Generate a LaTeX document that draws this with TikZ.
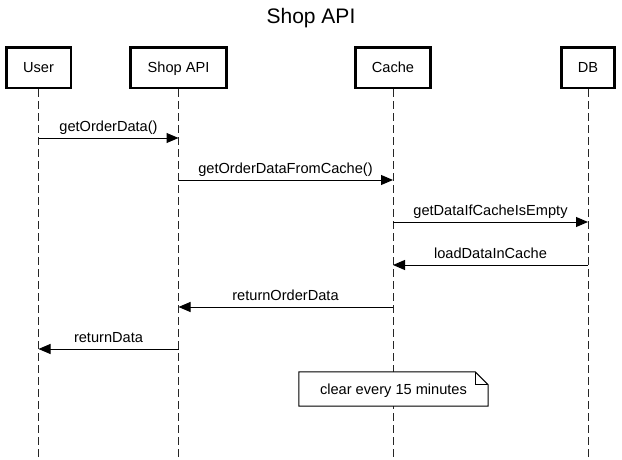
\documentclass[tikz,border=0pt]{standalone}
\usepackage{fontspec}
\setmainfont{Liberation Sans}
\usetikzlibrary{arrows.meta}
\begin{document}
\begin{tikzpicture}[x=1pt,y=-1pt,
 actor/.style={draw, line width=2.5pt, minimum height=40.5pt, inner sep=0pt,
   font=\fontsize{14.6}{17}\selectfont, text height=10.5pt, text depth=0pt},
 life/.style={draw=black!85, line width=1pt, dash pattern=on 8pt off 4pt},
 msg/.style={line width=1pt, -{Triangle[length=12pt,width=10pt]}},
 lbl/.style={font=\fontsize{14.6}{17}\selectfont, anchor=base, inner sep=0pt},
]
\useasboundingbox (0,0) rectangle (622,459);
\node[font=\fontsize{21}{25}\selectfont, anchor=base, inner sep=0pt] (title) at (311,23) {Shop API};

\node[actor, minimum width=64.5pt] (user) at (38.5,67.5) {User};
\node[actor, minimum width=96pt] (api) at (178.5,67.5) {Shop API};
\node[actor, minimum width=75pt] (cache) at (393,67.5) {Cache};
\node[actor, minimum width=53pt] (db) at (588,67.5) {DB};

\coordinate (userEnd) at (38.5,459);
\coordinate (apiEnd) at (178.5,459);
\coordinate (cacheEnd) at (393,459);
\coordinate (dbEnd) at (588,459);
\draw[life] (user.south) -- (userEnd);
\draw[life] (api.south) -- (apiEnd);
\draw[life] (cache.south) -- (cacheEnd);
\draw[life] (db.south) -- (dbEnd);

% message points
\coordinate (u1) at (38.5,138);  \coordinate (a1) at (178.5,138);
\coordinate (a2) at (178.5,180); \coordinate (c2) at (393,180);
\coordinate (c3) at (393,222); \coordinate (d3) at (588,222);
\coordinate (d4) at (588,265); \coordinate (c4) at (393,265);
\coordinate (c5) at (393,307); \coordinate (a5) at (178.5,307);
\coordinate (a6) at (178.5,349); \coordinate (u6) at (38.5,349);

\draw[msg] (u1) -- (a1);
\node[lbl] (l1) at (108.5,131) {getOrderData()};
\draw[msg] (a2) -- (c2);
\node[lbl] (l2) at (285.5,173) {getOrderDataFromCache()};
\draw[msg] (c3) -- (d3);
\node[lbl] (l3) at (490.5,215) {getDataIfCacheIsEmpty};
\draw[msg] (d4) -- (c4);
\node[lbl] (l4) at (490.5,258) {loadDataInCache};
\draw[msg] (c5) -- (a5);
\node[lbl] (l5) at (285.5,300) {returnOrderData};
\draw[msg] (a6) -- (u6);
\node[lbl] (l6) at (108.5,342) {returnData};

% note
\node[minimum width=189pt, minimum height=34pt, inner sep=0pt,
  font=\fontsize{14.6}{17}\selectfont, text height=10.5pt, text depth=0pt] (note) at (393.5,389) {};
\filldraw[fill=white, draw=black, line width=1pt]
  (note.north west) -- ([xshift=-13pt]note.north east) -- ([yshift=-13pt]note.north east)
  -- (note.south east) -- (note.south west) -- cycle;
\draw[line width=1pt] ([xshift=-13pt]note.north east) -- ([xshift=-13pt,yshift=-13pt]note.north east)
  -- ([yshift=-13pt]note.north east);
\node[font=\fontsize{14.6}{17}\selectfont, text height=10.5pt, text depth=0pt, inner sep=0pt] (notetext) at (note.center) {clear every 15 minutes};
\end{tikzpicture}
\end{document}
